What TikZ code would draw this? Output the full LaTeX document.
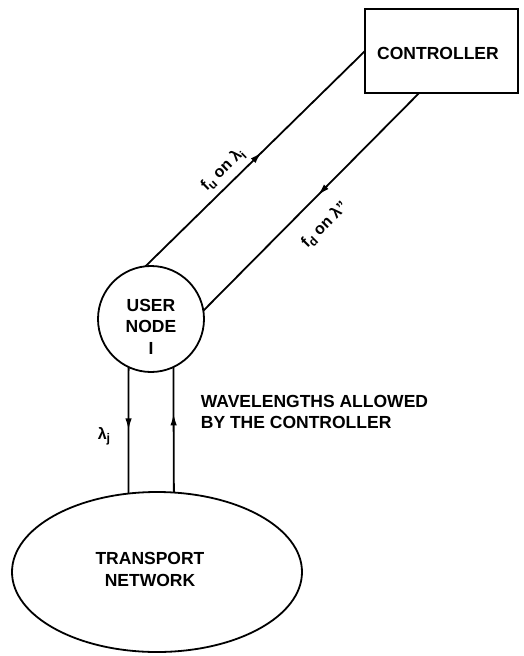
\documentclass[tikz,border=0pt]{standalone}
\usepackage{fontspec}
\setmainfont{Liberation Sans}
\usetikzlibrary{shapes.geometric,arrows.meta,decorations.markings}
\newcommand{\lowsub}[1]{\raisebox{-0.4ex}{\fontsize{12.5}{12.5}\selectfont #1}}
\begin{document}
\begin{tikzpicture}[x=1pt,y=-1pt,
  line width=1.8pt,
  txt/.style={font=\bfseries\fontsize{17.5}{21.5}\selectfont, align=center, inner sep=0pt},
  lbl/.style={font=\bfseries\fontsize{16}{18}\selectfont, inner sep=0pt},
  midarrow/.style={postaction={decorate},
    decoration={markings, mark=at position #1 with {\arrow{Latex[length=12pt,width=6.5pt]}}}}
]
\useasboundingbox (0,0) rectangle (523,656);
\node[draw, rectangle, minimum width=153pt, minimum height=84pt, inner sep=0pt, outer sep=0pt] (ctrl) at (441.5,51) {};
\node[txt] (ctrltxt) at (438,53.5) {CONTROLLER};
\node[draw, circle, minimum size=106pt, inner sep=0pt, outer sep=0pt] (user) at (151,319) {};
\node[txt] (usertxt) at (151,326.5) {USER\\NODE\\I};
\node[draw, ellipse, minimum width=290pt, minimum height=160pt, inner sep=0pt, outer sep=0pt] (net) at (157,572) {};
\node[txt] (nettxt) at (150,569.5) {TRANSPORT\\NETWORK};

\draw[midarrow=0.53] (user.96.6) -- (ctrl.west);
\draw[midarrow=0.47] (ctrl.242.9) -- (user.9.8);
\draw[midarrow=0.5] (user.-115.7) -- (net.110.3);
\draw[midarrow=0.63] (net.78.6) -- (user.-65.5);

\node[lbl, rotate=44.4] (fu) at (223,170) {f\lowsub{u} on λ\lowsub{i}};
\node[lbl, rotate=45] (fd) at (325,225) {f\lowsub{d} on λ''};
\node[lbl] (lj) at (104,436) {λ\lowsub{j}};
\node[txt, align=left, anchor=north west] (wl) at (200,394) {WAVELENGTHS ALLOWED\\BY THE CONTROLLER};
\end{tikzpicture}
\end{document}
